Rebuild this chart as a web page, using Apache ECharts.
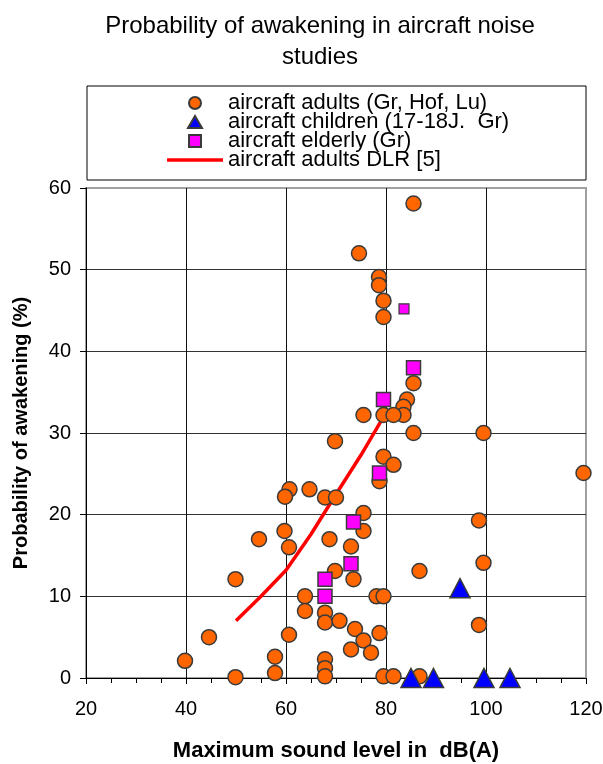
<!DOCTYPE html>
<html>
<head>
<meta charset="utf-8">
<script src="https://cdn.jsdelivr.net/npm/echarts@6/dist/echarts.min.js"></script>
<style>html,body{margin:0;padding:0;background:#fff;}#c{width:603px;height:764px;}</style>
</head>
<body>
<div id="c"></div>
<script>
const titleText = 'Probability of awakening in aircraft noise\nstudies';
const xAxisName = 'Maximum sound level in  dB(A)';
const yAxisName = 'Probability of awakening (%)';
const seriesNames = ['aircraft adults (Gr, Hof, Lu)', 'aircraft children (17-18J.  Gr)', 'aircraft elderly (Gr)', 'aircraft adults DLR [5]'];

const adults = [
  [85.5,58.1],[74.6,52.0],[78.6,49.1],[78.6,48.1],[79.5,46.2],[79.5,44.2],
  [85.5,36.1],[84.2,34.1],[83.5,33.2],[83.5,32.2],[75.5,32.2],[79.5,32.2],[81.5,32.2],
  [85.5,30.0],[69.8,29.0],[79.5,27.1],[81.5,26.1],[78.7,24.1],
  [60.7,23.1],[59.8,22.2],[64.7,23.1],[67.8,22.1],[70.0,22.1],
  [75.5,20.2],[75.5,18.0],[59.7,18.0],[60.6,16.0],[54.6,17.0],[68.7,17.0],[73.0,16.1],
  [73.5,12.1],[69.8,13.1],[49.9,12.1],[63.8,10.0],[63.8,8.2],[67.8,8.0],[67.8,6.8],
  [70.7,7.0],[60.6,5.3],[73.8,6.0],[75.5,4.6],[73.0,3.5],[77.0,3.1],[78.7,5.5],
  [78.1,10.0],[79.5,10.0],[86.7,13.1],[67.8,2.3],[67.8,1.2],[67.8,0.2],
  [79.5,0.2],[81.5,0.2],[86.7,0.2],[44.6,5.0],[39.8,2.1],[49.9,0.1],[57.8,2.6],[57.8,0.6],
  [99.5,30.0],[119.5,25.1],[98.6,19.3],[99.5,14.1],[98.6,6.5]
];
const children = [[85.0,0],[89.5,0],[99.6,0],[104.8,0],[94.8,11.0]];
const elderly = [[79.5,34.1],[85.5,38.0],[78.7,25.1],[73.5,19.1],[73.0,14.0],[67.8,12.1],[67.8,10.0]];
const elderlySmall = [[83.6,45.2]];
const dlrX = [50,55,60,65,70,75,80];
const dlrY = [7.0,10.0,13.2,17.6,22.5,27.3,32.5];

const xTicks = {min:20, max:120, interval:20};
const yTicks = {min:0, max:60, interval:10};

const FONT = "'Liberation Sans', Arial, sans-serif";
const legendIcons = [
  'path://M6,0A6,6,0,1,1,5.99,0Z',
  'path://M7,0L14,12L0,12Z',
  'path://M0,0H11V11H0Z',
  'path://M0,0H56V3.5H0Z'
];
const chart = echarts.init(document.getElementById('c'), null, {renderer:'canvas'});
chart.setOption({
  animation:false,
  backgroundColor:'#ffffff',
  title:{
    text:titleText, left:315, top:6, textAlign:'center',
    textStyle:{fontFamily:FONT, fontSize:24, fontWeight:'normal', color:'#000', lineHeight:31}
  },
  graphic:[{
    type:'rect', shape:{x:87, y:86, width:499, height:94},
    style:{fill:'none', stroke:'#000', lineWidth:1}, z:-1
  }],
  legend:{
    orient:'vertical', left:162, top:87, itemGap:-3, itemWidth:56, itemHeight:12,
    symbolKeepAspect:true,
    data:seriesNames.map((n,i)=>({name:n, icon:legendIcons[i]})),
    textStyle:{fontFamily:FONT, fontSize:22, color:'#000'}
  },
  grid:{left:86, right:17, top:188, bottom:86, show:true, borderColor:'#a0a0a0', borderWidth:2, containLabel:false, outerBoundsMode:'none'},
  xAxis:{
    type:'value', min:xTicks.min, max:xTicks.max, interval:xTicks.interval,
    name:xAxisName, nameLocation:'middle', nameGap:62,
    nameTextStyle:{fontFamily:FONT, fontSize:22, fontWeight:'bold', color:'#000'},
    axisLine:{show:true, onZero:false, lineStyle:{color:'#000', width:1}},
    axisTick:{show:true, length:6, lineStyle:{color:'#000'}},
    minorTick:{show:true, splitNumber:4, length:5, lineStyle:{color:'#000'}},
    axisLabel:{fontFamily:FONT, fontSize:20, color:'#000', margin:21},
    splitLine:{show:true, showMinLine:false, showMaxLine:false, lineStyle:{color:'#111', width:1}}
  },
  yAxis:{
    type:'value', min:yTicks.min, max:yTicks.max, interval:yTicks.interval,
    name:yAxisName, nameLocation:'middle', nameGap:55,
    nameTextStyle:{fontFamily:FONT, fontSize:20, fontWeight:'bold', color:'#000'},
    axisLine:{show:true, onZero:false, lineStyle:{color:'#000', width:1}},
    axisTick:{show:true, length:6, lineStyle:{color:'#000'}},
    axisLabel:{fontFamily:FONT, fontSize:20, color:'#000', margin:15},
    splitLine:{show:true, showMinLine:false, showMaxLine:false, lineStyle:{color:'#333', width:1}}
  },
  series:[
    {
      name:seriesNames[3], type:'line', data:dlrX.map((x,i)=>[x,dlrY[i]]),
      symbol:'none', smooth:false, z:2,
      lineStyle:{color:'#ff0000', width:3.5}, itemStyle:{color:'#ff0000'}
    },
    {
      name:seriesNames[0], type:'scatter', data:adults, symbol:'circle', symbolSize:15, z:3,
      itemStyle:{color:'#ff6600', borderColor:'#3a3a3a', borderWidth:1.5, opacity:1}
    },
    {
      name:seriesNames[1], type:'scatter', data:children, symbol:'triangle', symbolSize:[20,19], z:4,
      itemStyle:{color:'#0000ff', borderColor:'#3a3a3a', borderWidth:1.5, opacity:1}
    },
    {
      name:seriesNames[2], type:'scatter', data:elderly, symbol:'rect', symbolSize:14, z:5,
      itemStyle:{color:'#ff00ff', borderColor:'#3a3a3a', borderWidth:1.5, opacity:1}
    },
    {
      name:seriesNames[2], type:'scatter', data:elderlySmall, symbol:'rect', symbolSize:10, z:5,
      itemStyle:{color:'#ff00ff', borderColor:'#3a3a3a', borderWidth:1.2, opacity:1}
    }
  ]
});
</script>
</body>
</html>
